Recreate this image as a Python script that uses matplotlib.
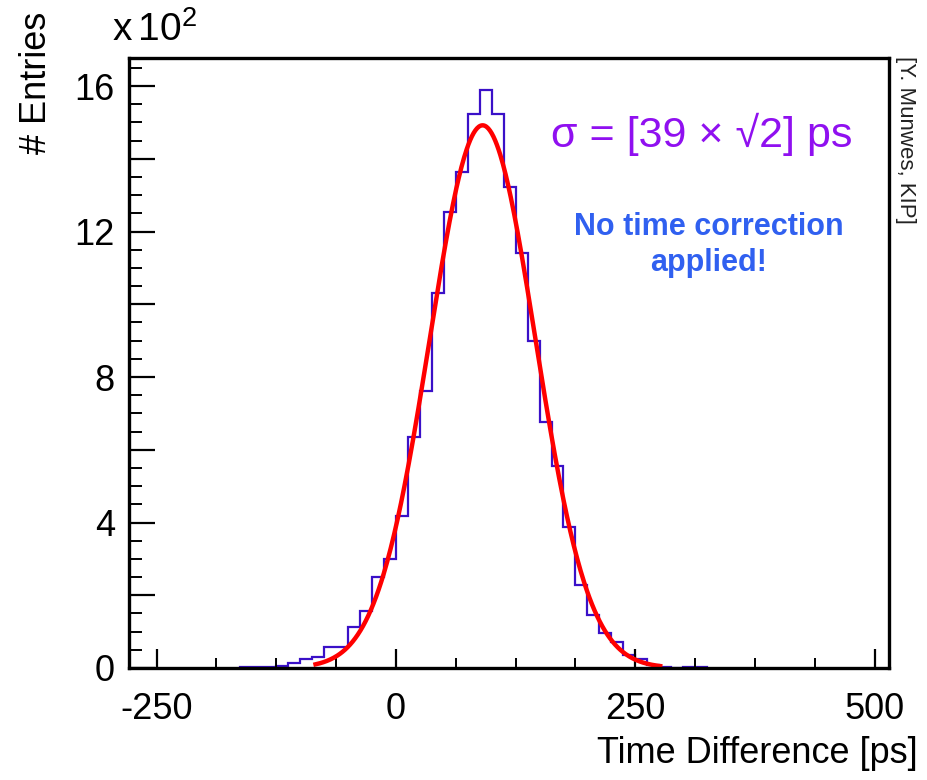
import numpy as np
import matplotlib
matplotlib.use("Agg")
import matplotlib.pyplot as plt
from matplotlib.ticker import MultipleLocator, FuncFormatter

plt.rcParams['font.family'] = ['Liberation Sans', 'DejaVu Sans']
plt.rcParams['mathtext.fontset'] = 'custom'
plt.rcParams['mathtext.rm'] = 'Liberation Sans'

# histogram: bin edges every 12.5 ps, entries per bin
bin_edges = np.arange(-162.5, 325 + 0.1, 12.5)
counts = [3, 3, 4, 5, 13, 25, 31, 58, 58, 112,
          157, 250, 301, 419, 636, 762, 1031, 1253, 1364, 1524,
          1588, 1524, 1323, 1141, 899, 675, 556, 389, 227, 145,
          96, 72, 36, 25, 8, 2, 0, 2, 2]

# gaussian fit result
fit_amp = 1492
fit_mean = 90.5
fit_sigma = 55.2
fit_range = (-84, 276)

fig = plt.figure(figsize=(9.27, 7.8), dpi=100)
ax = fig.add_axes([0.139, 0.1436, 0.82, 0.782])

ax.stairs(counts, bin_edges, color='#3a10c8', lw=1.6)

xf = np.linspace(fit_range[0], fit_range[1], 400)
ax.plot(xf, fit_amp * np.exp(-0.5 * ((xf - fit_mean) / fit_sigma) ** 2),
        color='#ff0000', lw=3.2)

ax.set_xlim(-279, 515)
ax.set_ylim(0, 1677)

ax.xaxis.set_major_locator(MultipleLocator(250))
ax.xaxis.set_minor_locator(MultipleLocator(62.5))
ax.yaxis.set_major_locator(MultipleLocator(200))
ax.yaxis.set_minor_locator(MultipleLocator(50))
ax.yaxis.set_major_formatter(FuncFormatter(
    lambda v, p: f"{v/100:.0f}" if round(v) % 400 == 0 else ""))
ax.xaxis.set_major_formatter(FuncFormatter(lambda v, p: f"{v:.0f}"))

ax.tick_params(axis='x', which='major', direction='in', length=14, width=1.6,
               labelsize=26, pad=17, top=False)
ax.tick_params(axis='x', which='minor', direction='in', length=7, width=1.4, top=False)
ax.tick_params(axis='y', which='major', direction='in', length=19, width=1.6,
               labelsize=26, pad=10, right=False)
ax.tick_params(axis='y', which='minor', direction='in', length=9, width=1.4, right=False)
for s in ax.spines.values():
    s.set_linewidth(2.4)

fig.text(0.039, 0.985, '# Entries', rotation=90, fontsize=26, ha='center', va='top')
fig.text(0.99, 0.012, 'Time Difference [ps]', fontsize=26, ha='right', va='bottom')
fig.text(0.121, 0.962, r'$\mathrm{x}\,10^{2}$', fontsize=28, ha='left', va='center')

ax.text(0.753, 0.874, 'σ = [39 × √2] ps', transform=ax.transAxes,
        fontsize=31, color='#9010f0', ha='center', va='center')
ax.text(0.763, 0.693, 'No time correction\napplied!', transform=ax.transAxes,
        fontsize=22, color='#3060f0', fontweight='bold', ha='center', va='center',
        linespacing=1.25)
fig.text(0.977, 0.928, '[Y. Munwes, KIP]', rotation=-90, fontsize=16,
         ha='center', va='top', color='#222222')

fig.savefig('out.png', dpi=100)
